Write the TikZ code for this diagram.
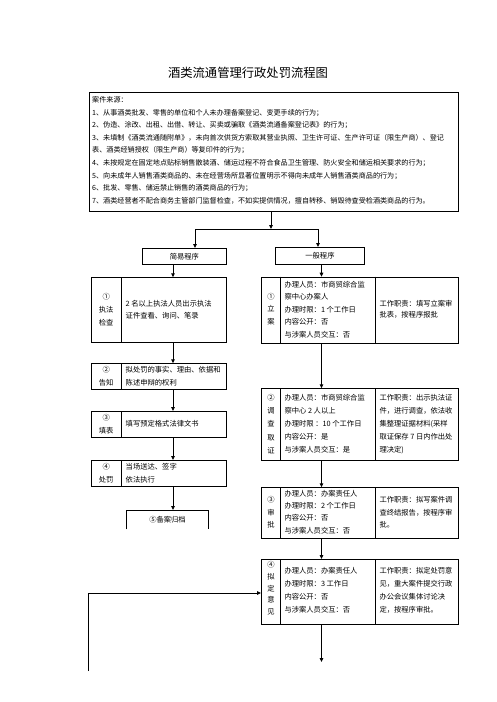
\documentclass[tikz,border=0pt]{standalone}
\usepackage{fontspec}
\newfontfamily\cjk{Noto Sans CJK SC}
\usetikzlibrary{arrows.meta}
\begin{document}
\begin{tikzpicture}[x=1pt,y=-1pt,
  box/.style={draw,line width=0.9pt,inner sep=0pt,anchor=north west},
  txt/.style={inner sep=0pt,font=\cjk\fontsize{7.3}{12.5}\selectfont,align=left},
  srct/.style={inner sep=0pt,font=\cjk\fontsize{7.1}{12}\selectfont,anchor=west},
  arr/.style={line width=0.9pt,-{Triangle[length=4pt,width=3.6pt]}},
  ln/.style={line width=0.9pt}]
\useasboundingbox (0,0) rectangle (496,702);
\fill[white] (0,0) rectangle (496,702);

% title
\node[inner sep=0pt,font=\cjk\fontsize{12.3}{14}\selectfont] (title) at (248,73) {酒类流通管理行政处罚流程图};

% case source box
\node[box,minimum width=369pt,minimum height=119pt] (src) at (89,92) {};
\node[srct] (s0) at (92,100.0) {案件来源：};
\node[srct] (s1) at (92,112.6) {1、从事酒类批发、零售的单位和个人未办理备案登记、变更手续的行为；};
\node[srct] (s2) at (92,125.2) {2、伪造、涂改、出租、出借、转让、买卖或骗取《酒类流通备案登记表》的行为；};
\node[srct] (s3) at (92,137.8) {3、未填制《酒类流通随附单》，未向首次供货方索取其营业执照、卫生许可证、生产许可证（限生产商）、登记};
\node[srct] (s4) at (92,150.4) {表、酒类经销授权（限生产商）等复印件的行为；};
\node[srct] (s5) at (92,163.0) {4、未按规定在固定地点贴标销售散装酒、储运过程不符合食品卫生管理、防火安全和储运相关要求的行为；};
\node[srct] (s6) at (92,175.6) {5、向未成年人销售酒类商品的、未在经营场所显著位置明示不得向未成年人销售酒类商品的行为；};
\node[srct] (s7) at (92,188.2) {6、批发、零售、储运禁止销售的酒类商品的行为；};
\node[srct] (s8) at (92,200.8) {7、酒类经营者不配合商务主管部门监督检查，不如实提供情况，擅自转移、销毁待查受检酒类商品的行为。};

% program boxes
\node[box,minimum width=83.5pt,minimum height=16pt] (jy) at (142.2,248) {};
\node[txt] (jyt) at (jy.center) {简易程序};
\node[box,minimum width=89pt,minimum height=16.5pt] (yb) at (275,247) {};
\node[txt] (ybt) at (yb.center) {一般程序};

% split
\coordinate (sp) at (271,229);
\coordinate (spl) at (195,229);
\coordinate (spr) at (318,229);
\draw[arr] (src.south -| sp) -- (sp);
\draw[ln] (spl) -- (spr);
\draw[arr] (spl) -- (jy.north -| spl);
\draw[arr] (spr) -- (yb.north -| spr);

% ---------- left column ----------
\node[box,minimum width=135pt,minimum height=65pt] (L1) at (90.7,277.3) {};
\draw[ln] ([xshift=31pt]L1.north west) -- ([xshift=31pt]L1.south west);
\node[txt,align=center,font=\cjk\fontsize{7.3}{13}\selectfont] (L1a) at (106.2,309.7) {①\\执法\\检查};
\node[txt,anchor=west,font=\cjk\fontsize{7.3}{12}\selectfont] (L1b) at (125.5,310) {2 名以上执法人员出示执法\\证件查看、询问、笔录};

\node[box,minimum width=135pt,minimum height=26pt] (L2) at (90.7,363.3) {};
\draw[ln] ([xshift=31pt]L2.north west) -- ([xshift=31pt]L2.south west);
\node[txt,align=center,font=\cjk\fontsize{7.3}{12.7}\selectfont] (L2a) at (106.2,376) {②\\告知};
\node[txt,anchor=west,font=\cjk\fontsize{7.3}{12.7}\selectfont] (L2b) at (125.5,376) {拟处罚的事实、理由、依据和\\陈述申辩的权利};

\node[box,minimum width=135pt,minimum height=26.3pt] (L3) at (90.7,411) {};
\draw[ln] ([xshift=31pt]L3.north west) -- ([xshift=31pt]L3.south west);
\node[txt,align=center,font=\cjk\fontsize{7.3}{13.7}\selectfont] (L3a) at (106.2,424.2) {③\\填表};
\node[txt,anchor=west] (L3b) at (125.5,423.3) {填写预定格式法律文书};

\node[box,minimum width=135pt,minimum height=26pt] (L4) at (90.7,460) {};
\draw[ln] ([xshift=31pt]L4.north west) -- ([xshift=31pt]L4.south west);
\node[txt,align=center,font=\cjk\fontsize{7.3}{12.6}\selectfont] (L4a) at (106.2,473) {④\\处罚};
\node[txt,anchor=west,font=\cjk\fontsize{7.3}{12.6}\selectfont] (L4b) at (125.5,473) {当场送达、签字\\依法执行};

\draw[ln] (126.7,529.3) -- (126.7,510) -- (208.3,510) -- (208.3,529.3);
\node[txt] (L5) at (167.5,519.3) {⑤备案归档};
\coordinate (L5top) at (173,510);

\coordinate (lc) at (173,0);
\draw[arr] (jy.south -| lc) -- (L1.north -| lc);
\draw[arr] (L1.south -| lc) -- (L2.north -| lc);
\draw[arr] (L2.south -| lc) -- (L3.north -| lc);
\draw[arr] (L3.south -| lc) -- (L4.north -| lc);
\draw[arr] (L4.south -| lc) -- (L5top);

% ---------- right column ----------
\node[box,minimum width=197.3pt,minimum height=66pt] (R1) at (261,276.7) {};
\draw[ln] ([xshift=19.7pt]R1.north west) -- ([xshift=19.7pt]R1.south west);
\draw[ln] ([xshift=114pt]R1.north west) -- ([xshift=114pt]R1.south west);
\node[txt,align=center,font=\cjk\fontsize{7.3}{12.3}\selectfont] (R1a) at (270.9,309) {①\\立\\案};
\node[txt,anchor=west] (R1b) at (284.3,309.7) {办理人员：市商贸综合监\\察中心办案人\\办理时限：1 个工作日\\内容公开：否\\与涉案人员交互：否};
\node[txt,anchor=west,font=\cjk\fontsize{7.3}{11.7}\selectfont] (R1c) at (379.3,309.2) {工作职责：填写立案审\\批表，按程序报批};

\node[box,minimum width=197.3pt,minimum height=71.7pt] (R2) at (261,388.3) {};
\draw[ln] ([xshift=19.7pt]R2.north west) -- ([xshift=19.7pt]R2.south west);
\draw[ln] ([xshift=114pt]R2.north west) -- ([xshift=114pt]R2.south west);
\node[txt,align=center,font=\cjk\fontsize{7.3}{13.1}\selectfont] (R2a) at (270.9,424) {②\\调\\查\\取\\证};
\node[txt,anchor=west,font=\cjk\fontsize{7.3}{13.1}\selectfont] (R2b) at (284.3,424) {办理人员：市商贸综合监\\察中心 2 人以上\\办理时限 ：10 个工作日\\内容公开：是\\与涉案人员交互：是};
\node[txt,anchor=west,font=\cjk\fontsize{7.3}{13.1}\selectfont] (R2c) at (379.3,424) {工作职责：出示执法证\\件，进行调查，依法收\\集整理证据材料(采样\\取证保存 7 日内作出处\\理决定)};

\node[box,minimum width=197.3pt,minimum height=51pt] (R3) at (261,487.3) {};
\draw[ln] ([xshift=19.7pt]R3.north west) -- ([xshift=19.7pt]R3.south west);
\draw[ln] ([xshift=114pt]R3.north west) -- ([xshift=114pt]R3.south west);
\node[txt,align=center,font=\cjk\fontsize{7.3}{12.5}\selectfont] (R3a) at (270.9,512.5) {③\\审\\批};
\node[txt,anchor=west,font=\cjk\fontsize{7.3}{12.4}\selectfont] (R3b) at (284.3,512) {办理人员：办案责任人\\办理时限：2 个工作日\\内容公开：否\\与涉案人员交互：否};
\node[txt,anchor=west,font=\cjk\fontsize{7.3}{12.8}\selectfont] (R3c) at (379.3,512.2) {工作职责：拟写案件调\\查终结报告，按程序审\\批。};

\node[box,minimum width=197.3pt,minimum height=65pt] (R4) at (261,559) {};
\draw[ln] ([xshift=19.7pt]R4.north west) -- ([xshift=19.7pt]R4.south west);
\draw[ln] ([xshift=114pt]R4.north west) -- ([xshift=114pt]R4.south west);
\node[txt,align=center,font=\cjk\fontsize{7.3}{11.7}\selectfont] (R4a) at (270.9,588.4) {④\\拟\\定\\意\\见};
\node[txt,anchor=west,font=\cjk\fontsize{7.3}{13.1}\selectfont] (R4b) at (284.3,590.3) {办理人员：办案责任人\\办理时限：3 工作日\\内容公开：否\\与涉案人员交互：否};
\node[txt,anchor=west,font=\cjk\fontsize{7.3}{13.1}\selectfont] (R4c) at (379.3,590.3) {工作职责：拟定处罚意\\见，重大案件提交行政\\办公会议集体讨论决\\定，按程序审批。};

\coordinate (rc) at (321.5,0);
\draw[arr] (yb.south -| rc) -- (R1.north -| rc);
\draw[arr] (R1.south -| rc) -- (R2.north -| rc);
\draw[arr] (R2.south -| rc) -- (R3.north -| rc);
\draw[arr] (R3.south -| rc) -- (R4.north -| rc);
\coordinate (endp) at (321.5,662);
\draw[arr] (R4.south -| rc) -- (endp);

\coordinate (lf) at (88.5,671);
\coordinate (lfc) at (88.5,593);
\draw[arr] (lf) -- (lfc) -- (lfc -| R4.west);
\end{tikzpicture}
\end{document}
